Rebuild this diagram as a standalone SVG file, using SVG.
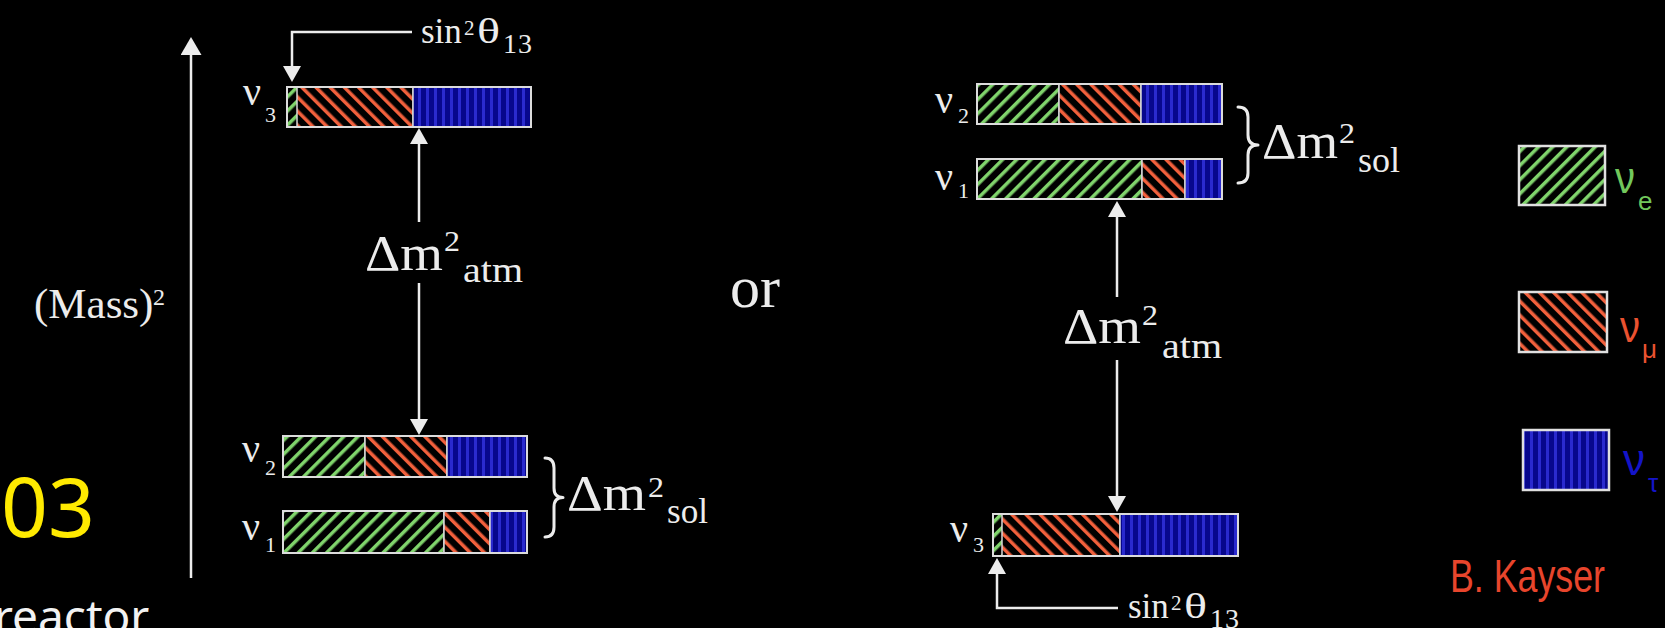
<svg xmlns="http://www.w3.org/2000/svg" width="1665" height="628" viewBox="0 0 1665 628">
<style>
.t{fill:#ececec;font-family:"Liberation Serif","Times New Roman",serif}
.ln{stroke:#ececec;stroke-width:2.5;fill:none}
.br{stroke:#ececec;stroke-width:3;fill:none;stroke-linecap:round;stroke-linejoin:round}
.seg{stroke:#d6d6d6;stroke-width:1.5}
.box{fill:none;stroke:#dcdcdc;stroke-width:2}
.lg{font-family:"Liberation Sans",Arial,sans-serif}
</style>
<defs>
<pattern id="pg" patternUnits="userSpaceOnUse" width="10" height="10" patternTransform="rotate(45)"><rect width="10" height="10" fill="#000"/><rect width="3.5" height="10" fill="#80d46c"/></pattern>
<pattern id="pr" patternUnits="userSpaceOnUse" width="10" height="10" patternTransform="rotate(-45)"><rect width="10" height="10" fill="#000"/><rect width="3.5" height="10" fill="#f2603c"/></pattern>
<pattern id="pb" patternUnits="userSpaceOnUse" width="8" height="10"><rect width="8" height="10" fill="#07078c"/><rect x="2" width="3" height="10" fill="#2a2ace"/></pattern>
<marker id="ah" markerUnits="userSpaceOnUse" markerWidth="16" markerHeight="18" viewBox="0 0 16 18" refX="3" refY="9" orient="auto"><path d="M0,0 L16,9 L0,18 z" fill="#ececec"/></marker>
<marker id="ahB" markerUnits="userSpaceOnUse" markerWidth="18" markerHeight="21" viewBox="0 0 18 21" refX="3" refY="10.5" orient="auto"><path d="M0,0 L18,10.5 L0,21 z" fill="#ececec"/></marker>
</defs>
<rect width="1665" height="628" fill="#000"/>

<g id="connectors">
<line class="ln" x1="191" y1="578" x2="191" y2="52" stroke-width="3" marker-end="url(#ahB)"/>
<path class="ln" d="M412,32 H292 V69" marker-end="url(#ah)"/>
<line class="ln" x1="419" y1="222" x2="419" y2="141" marker-end="url(#ah)"/>
<line class="ln" x1="419" y1="283" x2="419" y2="422" marker-end="url(#ah)"/>
<line class="ln" x1="1117" y1="297" x2="1117" y2="214" marker-end="url(#ah)"/>
<line class="ln" x1="1117" y1="360" x2="1117" y2="499" marker-end="url(#ah)"/>
<path class="ln" d="M1118,608 H997 V571" marker-end="url(#ah)"/>
<path class="br" d="M545,458 Q554,458 554,468 L554,488 Q554,497.5 563,497.5 Q554,497.5 554,507 L554,527 Q554,537 545,537"/>
<path class="br" d="M1238,107 Q1248,107 1248,117 L1248,135 Q1248,145 1258,145 Q1248,145 1248,155 L1248,173 Q1248,183 1238,183"/>
</g>

<g id="mass-label">
<text class="t" x="34" y="318" font-size="43">(Mass)</text>
<text class="t" x="153" y="305" font-size="24">2</text>
</g>

<g id="slide-number"><text x="1" y="537" font-size="82" fill="#ffea00" font-family="'Noto Sans','Open Sans',sans-serif">03</text></g>
<g id="reactor-label"><text x="-6" y="633" font-size="46" fill="#f2f2f2" font-family="'Noto Sans','Open Sans',sans-serif">reactor</text></g>

<g id="sin-top">
<text class="t" x="421" y="43" font-size="35">sin</text>
<text class="t" x="464" y="35" font-size="21">2</text>
<text class="t" x="477" y="43" font-size="36" textLength="23" lengthAdjust="spacingAndGlyphs">θ</text>
<text class="t" x="503" y="53" font-size="28" letter-spacing="1">13</text>
</g>

<g id="bar-l-v3">
<rect x="287" y="87" width="10" height="40" fill="url(#pg)"/>
<rect x="297" y="87" width="116" height="40" fill="url(#pr)" class="seg"/>
<rect x="413" y="87" width="118" height="40" fill="url(#pb)" class="seg"/>
<rect x="287" y="87" width="244" height="40" class="box"/>
<text class="t" x="243" y="105" font-size="40">ν</text>
<text class="t" x="265" y="122" font-size="22">3</text>
</g>

<g id="atm-left">
<text class="t" x="365" y="270" font-size="50" textLength="78" lengthAdjust="spacingAndGlyphs">Δm</text>
<text class="t" x="444" y="251" font-size="30" textLength="16" lengthAdjust="spacingAndGlyphs">2</text>
<text class="t" x="463" y="282" font-size="36" textLength="60" lengthAdjust="spacingAndGlyphs">atm</text>
</g>

<g id="bar-l-v2">
<rect x="283" y="436" width="82" height="41" fill="url(#pg)" class="seg"/>
<rect x="365" y="436" width="82" height="41" fill="url(#pr)" class="seg"/>
<rect x="447" y="436" width="80" height="41" fill="url(#pb)" class="seg"/>
<rect x="283" y="436" width="244" height="41" class="box"/>
<text class="t" x="242" y="462" font-size="40">ν</text>
<text class="t" x="265" y="475" font-size="22">2</text>
</g>

<g id="bar-l-v1">
<rect x="283" y="511" width="161" height="42" fill="url(#pg)" class="seg"/>
<rect x="444" y="511" width="46" height="42" fill="url(#pr)" class="seg"/>
<rect x="490" y="511" width="37" height="42" fill="url(#pb)" class="seg"/>
<rect x="283" y="511" width="244" height="42" class="box"/>
<text class="t" x="242" y="540" font-size="40">ν</text>
<text class="t" x="265" y="552" font-size="22">1</text>
</g>

<g id="sol-left">
<text class="t" x="567" y="510" font-size="50" textLength="79" lengthAdjust="spacingAndGlyphs">Δm</text>
<text class="t" x="648" y="497" font-size="30" textLength="16" lengthAdjust="spacingAndGlyphs">2</text>
<text class="t" x="667" y="523" font-size="36" textLength="41" lengthAdjust="spacingAndGlyphs">sol</text>
</g>

<g id="or-label"><text class="t" x="730" y="307" font-size="60">or</text></g>

<g id="bar-r-v2">
<rect x="977" y="84" width="82" height="40" fill="url(#pg)" class="seg"/>
<rect x="1059" y="84" width="82" height="40" fill="url(#pr)" class="seg"/>
<rect x="1141" y="84" width="81" height="40" fill="url(#pb)" class="seg"/>
<rect x="977" y="84" width="245" height="40" class="box"/>
<text class="t" x="935" y="113" font-size="40">ν</text>
<text class="t" x="958" y="123" font-size="22">2</text>
</g>

<g id="bar-r-v1">
<rect x="977" y="159" width="165" height="40" fill="url(#pg)" class="seg"/>
<rect x="1142" y="159" width="43" height="40" fill="url(#pr)" class="seg"/>
<rect x="1185" y="159" width="37" height="40" fill="url(#pb)" class="seg"/>
<rect x="977" y="159" width="245" height="40" class="box"/>
<text class="t" x="935" y="190" font-size="40">ν</text>
<text class="t" x="958" y="198" font-size="22">1</text>
</g>

<g id="sol-right">
<text class="t" x="1262" y="158" font-size="50" textLength="76" lengthAdjust="spacingAndGlyphs">Δm</text>
<text class="t" x="1339" y="143" font-size="30" textLength="16" lengthAdjust="spacingAndGlyphs">2</text>
<text class="t" x="1358" y="172" font-size="36" textLength="42" lengthAdjust="spacingAndGlyphs">sol</text>
</g>

<g id="atm-right">
<text class="t" x="1063" y="343" font-size="50" textLength="78" lengthAdjust="spacingAndGlyphs">Δm</text>
<text class="t" x="1142" y="325" font-size="30" textLength="16" lengthAdjust="spacingAndGlyphs">2</text>
<text class="t" x="1162" y="358" font-size="36" textLength="60" lengthAdjust="spacingAndGlyphs">atm</text>
</g>

<g id="bar-r-v3">
<rect x="993" y="514" width="9" height="42" fill="url(#pg)"/>
<rect x="1002" y="514" width="118" height="42" fill="url(#pr)" class="seg"/>
<rect x="1120" y="514" width="118" height="42" fill="url(#pb)" class="seg"/>
<rect x="993" y="514" width="245" height="42" class="box"/>
<text class="t" x="950" y="542" font-size="40">ν</text>
<text class="t" x="973" y="552" font-size="22">3</text>
</g>

<g id="sin-bottom">
<text class="t" x="1128" y="618" font-size="35">sin</text>
<text class="t" x="1171" y="610" font-size="21">2</text>
<text class="t" x="1184" y="618" font-size="36" textLength="23" lengthAdjust="spacingAndGlyphs">θ</text>
<text class="t" x="1210" y="628" font-size="28" letter-spacing="1">13</text>
</g>

<g id="legend-e">
<rect x="1519" y="146" width="86" height="59" fill="url(#pg)" stroke="#e0e0e0" stroke-width="2.5"/>
<text class="lg" x="1615" y="193" font-size="44" fill="#72c85c" textLength="20" lengthAdjust="spacingAndGlyphs">ν</text>
<text class="lg" x="1638" y="210" font-size="26" fill="#72c85c">e</text>
</g>
<g id="legend-mu">
<rect x="1519" y="292" width="88" height="60" fill="url(#pr)" stroke="#e0e0e0" stroke-width="2.5"/>
<text class="lg" x="1620" y="342" font-size="44" fill="#ea5230" textLength="20" lengthAdjust="spacingAndGlyphs">ν</text>
<text class="lg" x="1642" y="358" font-size="26" fill="#ea5230">μ</text>
</g>
<g id="legend-tau">
<rect x="1523" y="430" width="86" height="60" fill="url(#pb)" stroke="#e0e0e0" stroke-width="2.5"/>
<text class="lg" x="1623" y="475" font-size="44" fill="#1414c8" textLength="22" lengthAdjust="spacingAndGlyphs">ν</text>
<text class="lg" x="1648" y="492" font-size="26" fill="#1414c8">τ</text>
</g>

<g id="credit"><text class="lg" x="1450" y="592" font-size="46" fill="#e8452c" textLength="155" lengthAdjust="spacingAndGlyphs">B. Kayser</text></g>
</svg>
